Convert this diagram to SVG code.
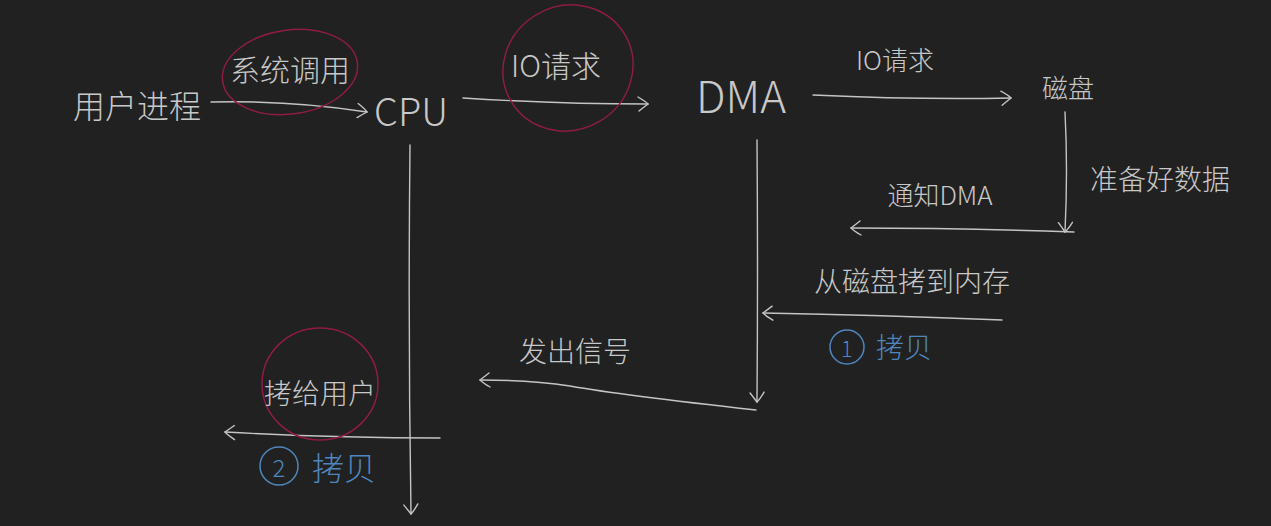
<svg xmlns="http://www.w3.org/2000/svg" width="1271" height="526" viewBox="0 0 1271 526">
<defs>
<marker id="ah" viewBox="0 0 12 16" refX="11" refY="8" markerWidth="12" markerHeight="16" markerUnits="userSpaceOnUse" orient="auto">
<path d="M1,1 Q8,5 11,8 Q7,11 2,15" fill="none" stroke="#c4c4c4" stroke-width="1.4" stroke-linecap="round"/>
</marker>
</defs>
<style>
.bg{fill:#212121}
.t{font-family:"Noto Sans CJK SC","Liberation Sans",sans-serif;font-weight:300;fill:#c8c8c8;text-anchor:middle;dominant-baseline:central}
.b{fill:#4f86bd}
.c{fill:none;stroke:#c4c4c4;stroke-width:1.4;stroke-linecap:round}
.r{fill:none;stroke:#8e1c46;stroke-width:1.5}
.bc{fill:none;stroke:#4f86bd;stroke-width:1.5}
</style>
<rect class="bg" width="1271" height="526"/>
<g id="connectors">
<path class="c" d="M211,102 Q290,100 367,112" marker-end="url(#ah)"/>
<path class="c" d="M463,98 Q560,104 648,104" marker-end="url(#ah)"/>
<path class="c" d="M813,95 Q920,100 1011,98" marker-end="url(#ah)"/>
<path class="c" d="M1065,112 Q1068,170 1065,232" marker-end="url(#ah)"/>
<path class="c" d="M1074,232 Q960,228 851,228" marker-end="url(#ah)"/>
<path class="c" d="M757,140 Q758,270 757,402" marker-end="url(#ah)"/>
<path class="c" d="M1002,320 Q880,315 763,313" marker-end="url(#ah)"/>
<path class="c" d="M756,410 Q620,395 570,386 Q530,380 480,380" marker-end="url(#ah)"/>
<path class="c" d="M410,145 Q408,330 411,514" marker-end="url(#ah)"/>
<path class="c" d="M440,438 Q330,438 225,432" marker-end="url(#ah)"/>
</g>
<g id="user-process"><text class="t" x="137" y="104" font-size="32">用户进程</text></g>
<g id="syscall">
<ellipse class="r" cx="290" cy="72" rx="68" ry="42" transform="rotate(-8 290 72)"/>
<text class="t" x="290" y="68" font-size="30">系统调用</text>
</g>
<g id="cpu"><text class="t" x="411" y="109" font-size="38">CPU</text></g>
<g id="io-req-1">
<ellipse class="r" cx="568" cy="68" rx="66" ry="62" transform="rotate(-30 568 68)"/>
<text class="t" x="556" y="64" font-size="30">IO请求</text>
</g>
<g id="dma"><text class="t" x="741" y="94" font-size="44">DMA</text></g>
<g id="io-req-2"><text class="t" x="895" y="58" font-size="26">IO请求</text></g>
<g id="disk"><text class="t" x="1068" y="86" font-size="26">磁盘</text></g>
<g id="prepare"><text class="t" x="1160" y="178" font-size="28">准备好数据</text></g>
<g id="notify"><text class="t" x="940" y="193" font-size="26">通知DMA</text></g>
<g id="copy-to-mem"><text class="t" x="912" y="280" font-size="28">从磁盘拷到内存</text></g>
<g id="copy-1">
<circle class="bc" cx="847" cy="347" r="17"/>
<text class="t b" x="847" y="347" font-size="22">1</text>
<text class="t b" x="904" y="346" font-size="28">拷贝</text>
</g>
<g id="signal"><text class="t" x="575" y="350" font-size="28">发出信号</text></g>
<g id="copy-user">
<ellipse class="r" cx="320" cy="384" rx="58" ry="56"/>
<text class="t" x="320" y="392" font-size="28">拷给用户</text>
</g>
<g id="copy-2">
<circle class="bc" cx="279" cy="466" r="19"/>
<text class="t b" x="279" y="466" font-size="24">2</text>
<text class="t b" x="344" y="466" font-size="32">拷贝</text>
</g>
</svg>
